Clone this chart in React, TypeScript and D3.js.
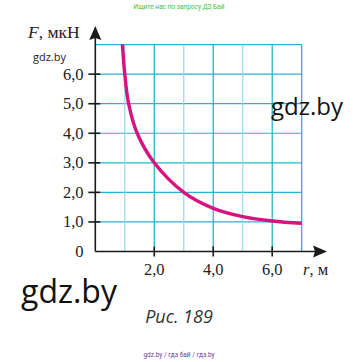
import React, { useRef, useEffect } from 'react';
import * as d3 from 'd3';

// points: r (m) and F (mkN)
const rValues = [0.92, 1.0, 1.13, 1.42, 2.0, 3.0, 4.0, 5.0, 6.0, 7.0];
const fValues = [7.0, 6.0, 5.0, 4.0, 3.0, 2.0, 1.46, 1.18, 1.03, 0.95];
const yTicks = [1, 2, 3, 4, 5, 6];
const xTicks = [2, 4, 6];
const gridSteps = [1, 2, 3, 4, 5, 6, 7];

const fmt = (v: number) => v.toFixed(1).replace('.', ',');

export default function App() {
  const svgRef = useRef<SVGSVGElement>(null);

  useEffect(() => {
    const w = 360;
    const h = 362;
    const svg = d3.select(svgRef.current).attr('width', w).attr('height', h);
    svg.selectAll('*').remove();

    svg.append('rect').attr('width', w).attr('height', h).attr('fill', '#fff');

    const x = d3.scaleLinear().domain([0, 7]).range([95.3, 301.7]);
    const y = d3.scaleLinear().domain([0, 7]).range([251.5, 44.6]);

    // grid
    const grid = svg.append('g');
    grid.selectAll('.hl')
      .data(gridSteps)
      .join('line')
      .attr('x1', x(0)).attr('x2', x(7))
      .attr('y1', d => y(d)).attr('y2', d => y(d))
      .attr('stroke', '#2ab2d4')
      .attr('stroke-width', 1.2);
    grid.selectAll('.vl')
      .data(gridSteps)
      .join('line')
      .attr('x1', d => x(d)).attr('x2', d => x(d))
      .attr('y1', y(0)).attr('y2', y(7))
      .attr('stroke', d => (d % 2 === 0 || d === 7 ? '#22a9cf' : '#92d8ef'))
      .attr('stroke-width', 1.2);

    // curve
    const pts = rValues.map((r, i) => [r, fValues[i]] as [number, number]);
    const line = d3.line<[number, number]>()
      .x(d => x(d[0]))
      .y(d => y(d[1]))
      .curve(d3.curveCatmullRom.alpha(0.5));
    svg.append('path')
      .attr('d', line(pts))
      .attr('fill', 'none')
      .attr('stroke', '#d6137f')
      .attr('stroke-width', 3.4)
      .attr('stroke-linecap', 'butt');

    // axes
    const ax = svg.append('g').attr('stroke', '#1a1a1a').attr('stroke-width', 1.6);
    ax.append('line').attr('x1', x(0)).attr('x2', 318).attr('y1', y(0)).attr('y2', y(0));
    ax.append('line').attr('x1', x(0)).attr('x2', x(0)).attr('y1', y(0)).attr('y2', 36);
    svg.append('path')
      .attr('d', `M327,${y(0)} L313,${y(0) - 6} L315,${y(0)} L313,${y(0) + 6} Z`)
      .attr('fill', '#1a1a1a');
    svg.append('path')
      .attr('d', `M${x(0)},26 L${x(0) - 6},40 L${x(0)},38 L${x(0) + 6},40 Z`)
      .attr('fill', '#1a1a1a');

    ax.selectAll('.yt')
      .data(yTicks)
      .join('line')
      .attr('x1', x(0) - 7).attr('x2', x(0) + 5)
      .attr('y1', d => y(d)).attr('y2', d => y(d));
    ax.selectAll('.xt')
      .data(xTicks)
      .join('line')
      .attr('x1', d => x(d)).attr('x2', d => x(d))
      .attr('y1', y(0) - 5).attr('y2', y(0) + 5);

    const serif = "'Liberation Serif', 'DejaVu Serif', serif";
    svg.selectAll('.ylab')
      .data([0, ...yTicks])
      .join('text')
      .attr('x', 83.5)
      .attr('y', d => y(d) + 5.5)
      .attr('text-anchor', 'end')
      .attr('font-family', serif)
      .attr('font-size', 16.5)
      .attr('fill', '#222')
      .text(d => (d === 0 ? '0' : fmt(d)));
    svg.selectAll('.xlab')
      .data(xTicks)
      .join('text')
      .attr('x', d => x(d))
      .attr('y', 275)
      .attr('text-anchor', 'middle')
      .attr('font-family', serif)
      .attr('font-size', 16.5)
      .attr('fill', '#222')
      .text(d => fmt(d));

    const fl = svg.append('text')
      .attr('x', 28).attr('y', 38)
      .attr('font-family', serif).attr('font-size', 17.5).attr('fill', '#222');
    fl.append('tspan').attr('font-style', 'italic').text('F');
    fl.append('tspan').text(', мкН');

    const rl = svg.append('text')
      .attr('x', 303).attr('y', 275)
      .attr('font-family', serif).attr('font-size', 16.5).attr('fill', '#222');
    rl.append('tspan').attr('font-style', 'italic').text('r');
    rl.append('tspan').text(', м');

    const sans = "'Open Sans', 'Noto Sans', sans-serif";
    svg.append('text').attr('x', 33).attr('y', 60.5)
      .attr('font-family', sans).attr('font-size', 11).attr('fill', '#222').text('gdz.by');
    svg.append('text').attr('x', 271).attr('y', 115)
      .attr('font-family', sans).attr('font-size', 24).attr('fill', '#111').text('gdz.by');
    svg.append('text').attr('x', 21).attr('y', 303)
      .attr('font-family', sans).attr('font-size', 32).attr('fill', '#111').text('gdz.by');
    svg.append('text').attr('x', 179).attr('y', 323).attr('text-anchor', 'middle')
      .attr('font-family', sans).attr('font-style', 'italic').attr('font-size', 18)
      .attr('fill', '#333').text('Рис. 189');

    svg.append('text').attr('x', 179).attr('y', 8.5).attr('text-anchor', 'middle')
      .attr('font-family', 'Roboto, sans-serif').attr('font-size', 6.5)
      .attr('fill', '#3cc43c').text('Ищите нас по запросу ДЗ Бай');
    svg.append('text').attr('x', 179).attr('y', 357).attr('text-anchor', 'middle')
      .attr('font-family', 'Roboto, sans-serif').attr('font-size', 6.5)
      .attr('fill', '#6b3d9a').text('gdz.by / гдз бай / гдз.by');
  }, []);

  return (
    <div style={{ position: 'absolute', left: 0, top: 0 }}>
      <svg ref={svgRef} style={{ display: 'block' }}></svg>
    </div>
  );
}
